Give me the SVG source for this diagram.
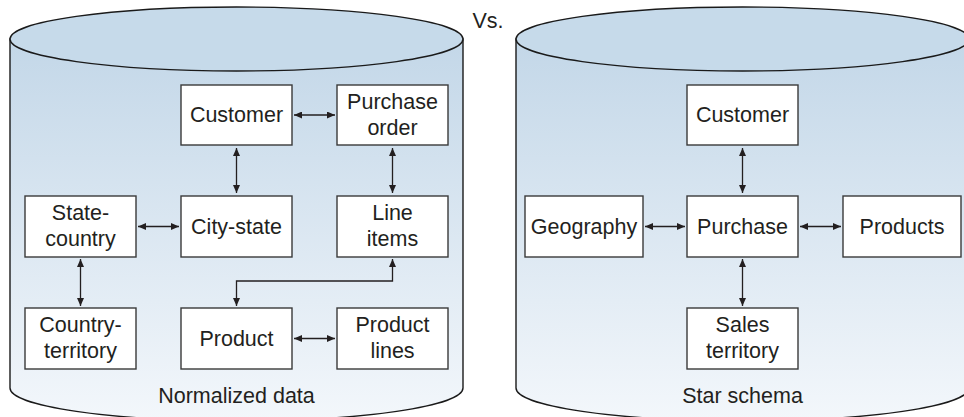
<svg xmlns="http://www.w3.org/2000/svg" width="964" height="417" viewBox="0 0 964 417">
  <defs>
    <linearGradient id="bodyFill" x1="0" y1="0" x2="0" y2="1">
      <stop offset="0" stop-color="#c3d7e8"/>
      <stop offset="1" stop-color="#f3f7fb"/>
    </linearGradient>
    <marker id="arrow" viewBox="0 0 8 7" refX="8" refY="3.5" markerWidth="8" markerHeight="7" markerUnits="userSpaceOnUse" orient="auto-start-reverse">
      <path d="M0,0 L8,3.5 L0,7 z" fill="#231f20"/>
    </marker>
    <style>
      .cyl { fill: url(#bodyFill); stroke: #1a1a1a; stroke-width: 1.4; }
      .lid { fill: #c6daea; stroke: #1a1a1a; stroke-width: 1.4; }
      .box { fill: #ffffff; stroke: #3a3a3a; stroke-width: 1.4; }
      .lbl { font-family: "Liberation Sans", Arial, sans-serif; font-size: 21.5px; fill: #231f20; text-anchor: middle; }
      .link { fill: none; stroke: #231f20; stroke-width: 1.3; marker-start: url(#arrow); marker-end: url(#arrow); }
    </style>
  </defs>

  <!-- Left database: normalized model -->
  <g id="db-normalized">
    <path class="cyl" d="M10,39 L10,388 A226.5,33 0 0 0 463,388 L463,39 Z"/>
    <ellipse class="lid" cx="236.5" cy="39" rx="226.5" ry="32"/>
    <text class="lbl" x="236.5" y="403">Normalized data</text>
  </g>

  <!-- Right database: star schema -->
  <g id="db-star">
    <path class="cyl" d="M516,39 L516,388 A226.5,33 0 0 0 969,388 L969,39 Z"/>
    <ellipse class="lid" cx="742.5" cy="39" rx="226.5" ry="32"/>
    <text class="lbl" x="742.5" y="403">Star schema</text>
  </g>

  <text id="vs" class="lbl" x="488" y="28">Vs.</text>

  <!-- Connectors -->
  <g id="connectors">
    <line class="link" x1="294" y1="115" x2="335" y2="115"/>
    <line class="link" x1="236.5" y1="148" x2="236.5" y2="193"/>
    <line class="link" x1="392.5" y1="148" x2="392.5" y2="193"/>
    <line class="link" x1="138" y1="226.5" x2="179" y2="226.5"/>
    <line class="link" x1="80.5" y1="259" x2="80.5" y2="306"/>
    <polyline class="link" points="392.5,259 392.5,281 236.5,281 236.5,306"/>
    <line class="link" x1="294" y1="338.5" x2="335" y2="338.5"/>

    <line class="link" x1="742.5" y1="148" x2="742.5" y2="193"/>
    <line class="link" x1="645" y1="226.5" x2="685" y2="226.5"/>
    <line class="link" x1="800" y1="226.5" x2="841" y2="226.5"/>
    <line class="link" x1="742.5" y1="259" x2="742.5" y2="306"/>
  </g>

  <!-- Normalized tables -->
  <g id="n-customer">
    <rect class="box" x="181" y="85" width="111" height="60"/>
    <text class="lbl" x="236.5" y="122">Customer</text>
  </g>
  <g id="n-purchase-order">
    <rect class="box" x="337" y="85" width="111" height="60"/>
    <text class="lbl" x="392.5" y="108.5">Purchase</text>
    <text class="lbl" x="392.5" y="134.5">order</text>
  </g>
  <g id="n-state-country">
    <rect class="box" x="25" y="196" width="111" height="61"/>
    <text class="lbl" x="80.5" y="220">State-</text>
    <text class="lbl" x="80.5" y="246">country</text>
  </g>
  <g id="n-city-state">
    <rect class="box" x="181" y="196" width="111" height="61"/>
    <text class="lbl" x="236.5" y="233.5">City-state</text>
  </g>
  <g id="n-line-items">
    <rect class="box" x="337" y="196" width="111" height="61"/>
    <text class="lbl" x="392.5" y="220">Line</text>
    <text class="lbl" x="392.5" y="246">items</text>
  </g>
  <g id="n-country-territory">
    <rect class="box" x="25" y="308" width="111" height="61"/>
    <text class="lbl" x="80.5" y="332">Country-</text>
    <text class="lbl" x="80.5" y="358">territory</text>
  </g>
  <g id="n-product">
    <rect class="box" x="181" y="308" width="111" height="61"/>
    <text class="lbl" x="236.5" y="345.5">Product</text>
  </g>
  <g id="n-product-lines">
    <rect class="box" x="337" y="308" width="111" height="61"/>
    <text class="lbl" x="392.5" y="332">Product</text>
    <text class="lbl" x="392.5" y="358">lines</text>
  </g>

  <!-- Star schema tables -->
  <g id="s-customer">
    <rect class="box" x="687" y="85" width="111" height="60"/>
    <text class="lbl" x="742.5" y="122">Customer</text>
  </g>
  <g id="s-geography">
    <rect class="box" x="525" y="196" width="118" height="61"/>
    <text class="lbl" x="584" y="233.5">Geography</text>
  </g>
  <g id="s-purchase">
    <rect class="box" x="687" y="196" width="111" height="61"/>
    <text class="lbl" x="742.5" y="233.5">Purchase</text>
  </g>
  <g id="s-products">
    <rect class="box" x="843" y="196" width="118" height="61"/>
    <text class="lbl" x="902" y="233.5">Products</text>
  </g>
  <g id="s-sales-territory">
    <rect class="box" x="687" y="308" width="111" height="61"/>
    <text class="lbl" x="742.5" y="332">Sales</text>
    <text class="lbl" x="742.5" y="358">territory</text>
  </g>
</svg>
